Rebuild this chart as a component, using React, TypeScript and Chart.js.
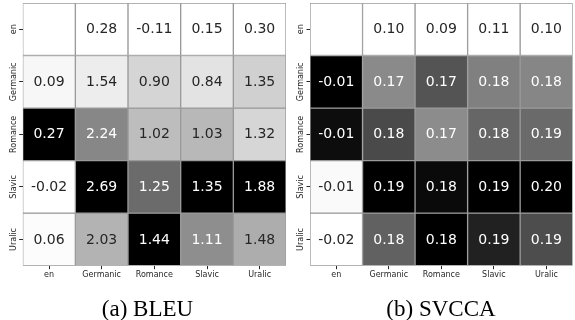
import React, { useEffect, useRef } from "react";
import { Chart, registerables } from "chart.js";

Chart.register(...registerables);

const rowLabels = ["en", "Germanic", "Romance", "Slavic", "Uralic"];
const colLabels = ["en", "Germanic", "Romance", "Slavic", "Uralic"];

const bleuValues: (number | null)[][] = [
  [null, 0.28, -0.11, 0.15, 0.3],
  [0.09, 1.54, 0.9, 0.84, 1.35],
  [0.27, 2.24, 1.02, 1.03, 1.32],
  [-0.02, 2.69, 1.25, 1.35, 1.88],
  [0.06, 2.03, 1.44, 1.11, 1.48],
];
// colour intensity of each cell (0 = white, 1 = black)
const bleuShade: number[][] = [
  [0, 0, 0, 0, 0],
  [0.03, 0.07, 0.165, 0.11, 0.185],
  [1, 0.47, 0.26, 0.28, 0.16],
  [0, 1, 0.58, 1, 1],
  [0.01, 0.3, 1, 0.445, 0.32],
];

const svccaValues: (number | null)[][] = [
  [null, 0.1, 0.09, 0.11, 0.1],
  [-0.01, 0.17, 0.17, 0.18, 0.18],
  [-0.01, 0.18, 0.17, 0.18, 0.19],
  [-0.01, 0.19, 0.18, 0.19, 0.2],
  [-0.02, 0.18, 0.18, 0.19, 0.19],
];
const svccaShade: number[][] = [
  [0, 0, 0, 0, 0],
  [1, 0.46, 0.67, 0.5, 0.475],
  [0.95, 0.71, 0.45, 0.6, 0.585],
  [0.02, 1, 0.96, 1, 1],
  [0, 0.62, 1, 0.87, 0.7],
];

const captions = ["(a) BLEU", "(b) SVCCA"];

function grayOf(s: number): string {
  const g = Math.round(255 * (1 - s));
  return `rgb(${g},${g},${g})`;
}

interface PanelProps {
  values: (number | null)[][];
  shade: number[][];
  caption: string;
  width: number;
  yAxisWidth: number;
  rightPad: number;
  captionX: number;
}

function HeatPanel(props: PanelProps) {
  const ref = useRef<HTMLCanvasElement | null>(null);
  useEffect(() => {
    const { values, shade, caption, yAxisWidth, rightPad, captionX } = props;
    const datasets = rowLabels.map((_, r) => ({
      label: rowLabels[r],
      data: colLabels.map(() => [r, r + 1] as [number, number]),
      backgroundColor: colLabels.map((_, c) => grayOf(shade[r][c])),
      borderColor: "#9a9a9a",
      borderWidth: 1,
      borderSkipped: false as const,
      grouped: false,
      categoryPercentage: 1,
      barPercentage: 1,
    }));

    const cellText = {
      id: "cellText",
      afterDatasetsDraw(chart: any) {
        const ctx = chart.ctx;
        ctx.save();
        ctx.font = '14px "DejaVu Sans"';
        ctx.textAlign = "center";
        ctx.textBaseline = "middle";
        rowLabels.forEach((_, r) => {
          const meta = chart.getDatasetMeta(r);
          meta.data.forEach((el: any, c: number) => {
            const v = values[r][c];
            if (v === null || v === undefined) return;
            const p = el.getCenterPoint();
            ctx.fillStyle = shade[r][c] > 0.42 ? "#ffffff" : "#262626";
            ctx.fillText(v.toFixed(2), p.x, p.y + 0.5);
          });
        });
        // y labels, rotated
        const ys = chart.scales.y;
        const area = chart.chartArea;
        ctx.font = '8px "DejaVu Sans"';
        ctx.fillStyle = "#262626";
        rowLabels.forEach((lab, r) => {
          const y = ys.getPixelForValue(r + 0.5);
          ctx.save();
          ctx.translate(area.left - 9, y);
          ctx.rotate(-Math.PI / 2);
          ctx.fillText(lab, 0, 0);
          ctx.restore();
        });
        // caption
        ctx.font = '23px "Liberation Serif"';
        ctx.fillStyle = "#000000";
        ctx.textBaseline = "alphabetic";
        ctx.fillText(caption, captionX, 315.5);
        ctx.restore();
      },
    };

    const chart = new Chart(ref.current as HTMLCanvasElement, {
      type: "bar",
      data: { labels: colLabels, datasets: datasets as any },
      options: {
        animation: false,
        responsive: false,
        devicePixelRatio: 1,
        layout: { padding: { top: 3, right: rightPad, left: 0, bottom: 0 } },
        plugins: { legend: { display: false }, tooltip: { enabled: false }, title: { display: false } },
        scales: {
          x: {
            type: "category",
            offset: true,
            border: { display: false },
            grid: {
              display: true,
              drawOnChartArea: false,
              offset: false,
              tickLength: 3.5,
              tickColor: "#262626",
              color: "#262626",
            },
            ticks: {
              font: { family: "DejaVu Sans", size: 8 },
              color: "#262626",
              padding: 1,
              maxRotation: 0,
              minRotation: 0,
            },
            afterFit(scale: any) {
              scale.height = 320 - 3 - 262.7;
            },
          },
          y: {
            type: "linear",
            min: 0,
            max: 5,
            reverse: true,
            border: { display: false },
            grid: {
              display: true,
              drawOnChartArea: false,
              tickLength: 3.5,
              tickColor: "#262626",
              color: "#262626",
            },
            ticks: { display: false },
            afterBuildTicks(scale: any) {
              scale.ticks = rowLabels.map((_, i) => ({ value: i + 0.5 }));
            },
            afterFit(scale: any) {
              scale.width = yAxisWidth;
            },
          },
        },
      },
      plugins: [cellText],
    });
    return () => chart.destroy();
  }, []);
  return <canvas ref={ref} width={props.width} height={320} style={{ display: "block", width: props.width, height: 320 }} />;
}

export default function App() {
  return (
    <div style={{ position: "absolute", left: 0, top: 0, width: 575, height: 320, background: "#fff", display: "flex" }}>
      <HeatPanel values={bleuValues} shade={bleuShade} caption={captions[0]} width={290} yAxisWidth={22.7} rightPad={4} captionX={147.5} />
      <HeatPanel values={svccaValues} shade={svccaShade} caption={captions[1]} width={285} yAxisWidth={20} rightPad={2.3} captionX={151} />
    </div>
  );
}
